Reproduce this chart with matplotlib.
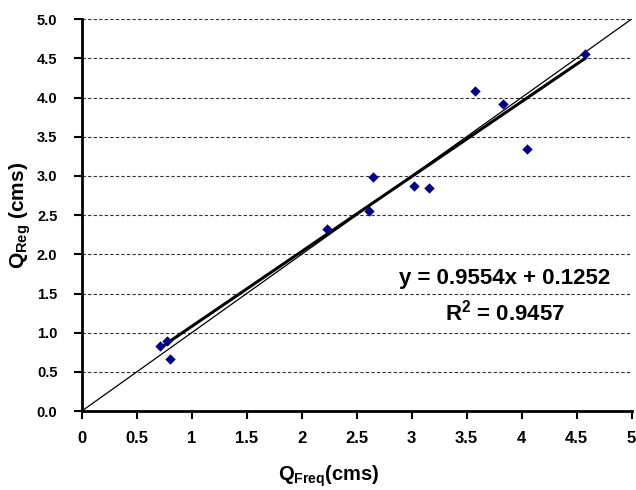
import matplotlib
matplotlib.use("Agg")
import matplotlib.pyplot as plt
import numpy as np

plt.rcParams['font.family'] = ['Liberation Sans', 'DejaVu Sans']
plt.rcParams['font.weight'] = 'bold'
plt.rcParams['mathtext.fontset'] = 'custom'
plt.rcParams['mathtext.rm'] = 'Liberation Sans:bold'
plt.rcParams['mathtext.bf'] = 'Liberation Sans:bold'
plt.rcParams['mathtext.it'] = 'Liberation Sans:bold'

q_freq = [0.71, 0.78, 0.80, 2.23, 2.615, 2.65, 3.02, 3.16, 3.58, 3.83, 4.05, 4.58]
q_reg = [0.83, 0.89, 0.67, 2.32, 2.55, 2.99, 2.87, 2.84, 4.08, 3.92, 3.34, 4.55]
slope = 0.9554
intercept = 0.1252
r2 = 0.9457
x_ticks = [0, 0.5, 1, 1.5, 2, 2.5, 3, 3.5, 4, 4.5, 5]
y_ticks = [0.0, 0.5, 1.0, 1.5, 2.0, 2.5, 3.0, 3.5, 4.0, 4.5, 5.0]

fig = plt.figure(figsize=(6.36, 4.9), dpi=100)
ax = fig.add_axes([0.1285, 0.161, 0.8645, 0.800])

ax.set_xlim(0, 5)
ax.set_ylim(0, 5)
for yv in y_ticks[1:]:
    ax.axhline(yv, color='#333333', lw=0.8, ls=(0, (3, 2)), zorder=0)

# 1:1 line
ax.plot([0, 5.5], [0, 5.5], color='black', lw=0.9, zorder=2)
# trendline
xt = np.array([min(q_freq), max(q_freq)])
ax.plot(xt, slope * xt + intercept, color='black', lw=2.2, zorder=3)

ax.scatter(q_freq, q_reg, marker='D', s=28, color='#000080', zorder=4, linewidths=0)

ax.set_xticks(x_ticks)
ax.set_xticklabels([f"{v:g}" for v in x_ticks])
ax.set_yticks(y_ticks)
ax.set_yticklabels([f"{v:.1f}" for v in y_ticks])
ax.tick_params(axis='both', direction='out', length=5.5, width=1.5, colors='black')
ax.tick_params(axis='x', pad=9, labelsize=12)
ax.tick_params(axis='y', pad=12, labelsize=10.5)
for s in ['top', 'right']:
    ax.spines[s].set_visible(False)
ax.spines['left'].set_linewidth(2)
ax.spines['bottom'].set_linewidth(2)

ax.set_xlabel(r'$\mathregular{Q_{Freq}}$(cms)', fontsize=14.5, fontweight='bold')
ax.xaxis.set_label_coords(0.45, -0.165)
ax.xaxis.label.set_va('center')
ax.set_ylabel(r'$\mathregular{Q_{Reg}}$ (cms)', fontsize=15, fontweight='bold')
ax.yaxis.set_label_coords(-0.112, 0.5)
ax.yaxis.label.set_va('center')

ax.text(3.85, 1.69, f"y = {slope}x + {intercept}",
        ha='center', va='center', fontsize=16, fontweight='bold')
ax.text(3.85, 1.26, f"R$^2$ = {r2}",
        ha='center', va='center', fontsize=16, fontweight='bold')

fig.savefig("out.png", dpi=100)
